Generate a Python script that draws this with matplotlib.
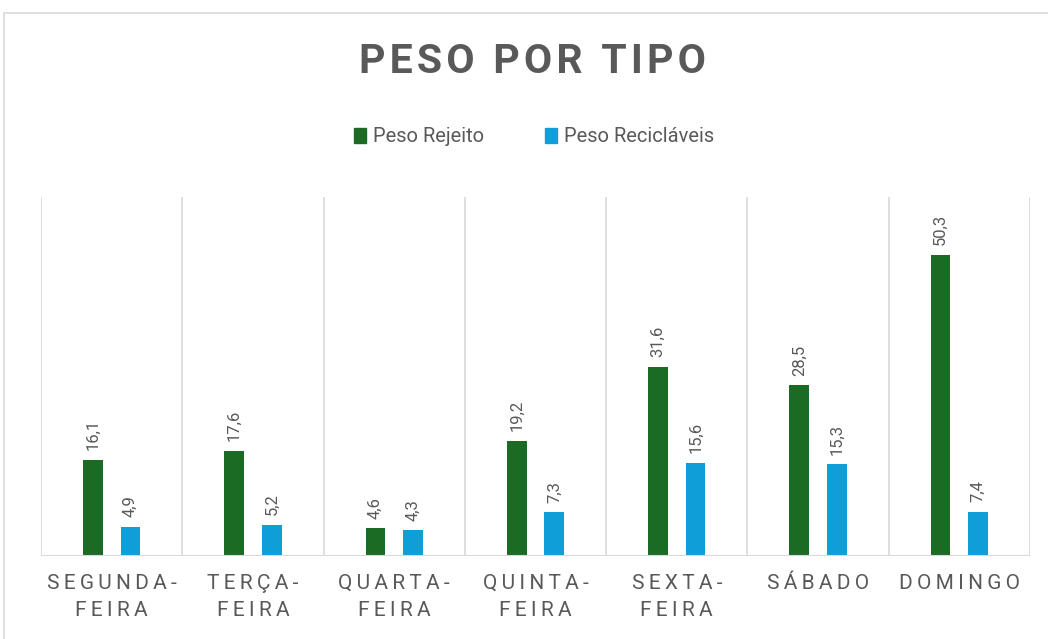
import matplotlib
matplotlib.use("Agg")
import matplotlib.pyplot as plt
from matplotlib.patches import Rectangle
import numpy as np

categories = ["SEGUNDA-\nFEIRA", "TERÇA-\nFEIRA", "QUARTA-\nFEIRA", "QUINTA-\nFEIRA",
              "SEXTA-\nFEIRA", "SÁBADO", "DOMINGO"]
peso_rejeito = [16.1, 17.6, 4.6, 19.2, 31.6, 28.5, 50.3]
peso_reciclaveis = [4.9, 5.2, 4.3, 7.3, 15.6, 15.3, 7.4]
series_names = ["Peso Rejeito", "Peso Recicláveis"]
title = "PESO POR TIPO"

green = "#1b6b25"
blue = "#0f9fd8"
gray = "#595959"
fam = ["Roboto", "DejaVu Sans"]

plt.rcParams['font.family'] = fam

fig = plt.figure(figsize=(10.48, 6.39), dpi=100)
W, H = 1048, 639

# chart frame
fig.patches.append(Rectangle((4 / W, -0.1), 1.2, 1 - 13 / H + 0.1, transform=fig.transFigure,
                             fill=False, edgecolor="#d9d9d9", linewidth=1.2))

ax = fig.add_axes([41 / W, 1 - 556 / H, (1030 - 41) / W, (556 - 197) / H])
x = np.arange(len(categories))
bw = 0.14
off = 0.133
b1 = ax.bar(x - off, peso_rejeito, bw, color=green, label=series_names[0])
b2 = ax.bar(x + off, peso_reciclaveis, bw, color=blue, label=series_names[1])

def fmt(v):
    return f"{v:.1f}".replace(".", ",")

for bars, vals in ((b1, peso_rejeito), (b2, peso_reciclaveis)):
    for r, v in zip(bars, vals):
        ax.annotate(fmt(v), (r.get_x() + r.get_width() / 2, r.get_height()),
                    xytext=(0, 7), textcoords="offset points", rotation=90,
                    ha="center", va="bottom", fontsize=12, color=gray)

ax.set_xlim(-0.5, len(categories) - 0.5)
ax.set_ylim(0, 60)
for b in np.arange(-0.5, len(categories), 1.0):
    ax.axvline(b, color="#d9d9d9", linewidth=1.2, zorder=0)
ax.axhline(0, color="#d9d9d9", linewidth=1.5, zorder=3)
for s in ax.spines.values():
    s.set_visible(False)
ax.set_yticks([])
ax.set_xticks(x)

def spread(s, sep, wordsep=" "):
    return "\n".join(wordsep.join(sep.join(list(w)) for w in line.split(" ")) for line in s.split("\n"))

ax.set_xticklabels([spread(c, "\u2009") for c in categories], fontsize=15, color=gray,
                   linespacing=1.55)
ax.tick_params(axis="x", length=0, pad=13)

fig.text(533 / W, 1 - 62 / H, spread(title, "\u200a", " \u2009"),
         ha="center", va="center", fontsize=29.5, fontweight="bold", color=gray)

handles = [Rectangle((0, 0), 1, 1, color=green), Rectangle((0, 0), 1, 1, color=blue)]
fig.legend(handles, series_names, loc="center", bbox_to_anchor=(534 / W, 1 - 137 / H),
           ncol=2, frameon=False, fontsize=14.5, labelcolor=gray, handlelength=0.6,
           handleheight=0.8, handletextpad=0.35, columnspacing=3.0)

fig.savefig("out.png", dpi=100)
